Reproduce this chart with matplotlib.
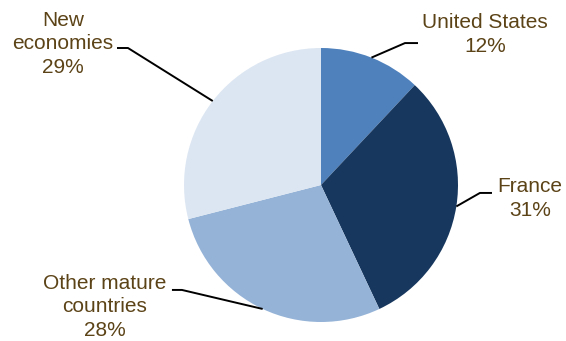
import numpy as np
import matplotlib.pyplot as plt

plt.rcParams["font.family"] = ["Liberation Sans", "DejaVu Sans"]

regions = ["United States", "France", "Other mature\ncountries", "New\neconomies"]
shares = [12, 31, 28, 29]
colors = ["#4F81BD", "#17375E", "#95B3D7", "#DCE6F2"]

# label placement (elbow, end of leader, text centre) in units of pie radius
elbows = [(0.613, 1.036), (1.16, -0.058), (-1.015, -0.766), (-1.409, 1.0)]
line_ends = [(0.708, 1.036), (1.248, -0.058), (-1.088, -0.766), (-1.489, 1.0)]
text_pos = [(1.197, 1.10), (1.526, -0.10), (-1.577, -0.89), (-1.883, 1.03)]

TEXT_COLOR = "#5C4317"

fig = plt.figure(figsize=(5.66, 3.41), dpi=100)
ax = fig.add_axes([0, 0, 1, 1])

wedges, _ = ax.pie(
    shares,
    colors=colors,
    startangle=90,
    counterclock=False,
    radius=1.0,
    wedgeprops={"linewidth": 0},
)

for wedge, name, share, elbow, end, pos in zip(
    wedges, regions, shares, elbows, line_ends, text_pos
):
    mid = np.deg2rad((wedge.theta1 + wedge.theta2) / 2)
    start = (np.cos(mid), np.sin(mid))
    ax.plot(
        [start[0], elbow[0], end[0]],
        [start[1], elbow[1], end[1]],
        color="black",
        linewidth=1.4,
        solid_capstyle="butt",
    )
    ax.text(
        pos[0], pos[1], f"{name}\n{share}%",
        ha="center", va="center", multialignment="center",
        fontsize=15, color=TEXT_COLOR, linespacing=1.32,
    )

# centre of pie at (321, 185) px, radius 137 px
ax.set_aspect("auto")
ax.set_xlim(-321 / 137, (566 - 321) / 137)
ax.set_ylim(-(341 - 185) / 137, 185 / 137)
ax.axis("off")

fig.savefig("out.png", dpi=100)
plt.close(fig)
